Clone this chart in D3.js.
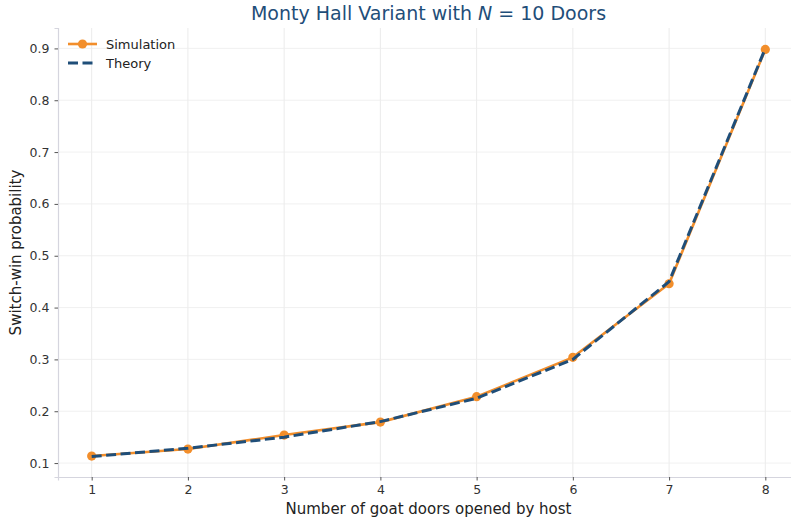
<!DOCTYPE html>
<html>
<head>
<meta charset="utf-8">
<script src="https://cdn.jsdelivr.net/npm/d3@7"></script>
<style>
  body { margin: 0; background: #fff; }
  text { font-family: "DejaVu Sans", sans-serif; }
</style>
</head>
<body>
<div id="chart"></div>
<script>
// data
const doorsOpened = [1, 2, 3, 4, 5, 6, 7, 8];
const simulation = [0.1135, 0.127, 0.154, 0.179, 0.228, 0.304, 0.446, 0.898];
const theory = [0.1125, 0.1286, 0.15, 0.18, 0.225, 0.3, 0.45, 0.9];
const yTicks = [0.1, 0.2, 0.3, 0.4, 0.5, 0.6, 0.7, 0.8, 0.9];

const orange = '#f28e2b';
const navy = '#1f4e79';

const W = 791, H = 519;
const margin = { top: 28, right: -8, bottom: 42, left: 58 },
width = W - margin.left - margin.right,
height = H - margin.top - margin.bottom;

const svg = d3.select('#chart')
    .append('svg')
    .attr('width', W)
    .attr('height', H);

const g = svg.append('g')
    .attr('transform', `translate(${margin.left} ${margin.top})`);

// matplotlib-like 5% margins
const x = d3.scaleLinear().domain([0.65, 8.35]).range([0, width]);
const yMin = 0.1125, yMax = 0.9, pad = (yMax - yMin) * 0.05;
const y = d3.scaleLinear().domain([yMin - pad, yMax + pad]).range([height, 0]);

// grid
g.append('g')
    .selectAll('line')
    .data(doorsOpened)
    .join('line')
    .attr('x1', d => x(d)).attr('x2', d => x(d))
    .attr('y1', 0).attr('y2', height)
    .attr('stroke', '#e6e6e6').attr('stroke-width', 0.8);

g.append('g')
    .selectAll('line')
    .data(yTicks)
    .join('line')
    .attr('x1', 0).attr('x2', width)
    .attr('y1', d => y(d)).attr('y2', d => y(d))
    .attr('stroke', '#ececec').attr('stroke-width', 0.8);

// axes
const xAxis = g.append('g')
    .attr('transform', `translate(0 ${height})`)
    .call(d3.axisBottom(x).tickValues(doorsOpened).tickFormat(d3.format('d')).tickSize(3.5).tickPadding(5));
const yAxis = g.append('g')
    .call(d3.axisLeft(y).tickValues(yTicks).tickFormat(d3.format('.1f')).tickSize(3.5).tickPadding(5));

[xAxis, yAxis].forEach(a => {
    a.select('.domain').attr('stroke', '#d5d5de').attr('stroke-width', 1.2);
    a.selectAll('.tick line').attr('stroke', '#555');
    a.selectAll('.tick text').attr('fill', '#333').attr('font-size', 12.5)
        .attr('font-family', 'DejaVu Sans');
});

// lines
const line = d3.line().x(d => x(d[0])).y(d => y(d[1]));
const simPts = doorsOpened.map((d, i) => [d, simulation[i]]);
const thPts = doorsOpened.map((d, i) => [d, theory[i]]);

g.append('path')
    .attr('d', line(simPts))
    .attr('fill', 'none')
    .attr('stroke', orange)
    .attr('stroke-width', 2.6)
    .attr('stroke-linejoin', 'round');

g.append('g')
    .selectAll('circle')
    .data(simPts)
    .join('circle')
    .attr('cx', d => x(d[0]))
    .attr('cy', d => y(d[1]))
    .attr('r', 4.6)
    .attr('fill', orange);

g.append('path')
    .attr('d', line(thPts))
    .attr('fill', 'none')
    .attr('stroke', navy)
    .attr('stroke-width', 3)
    .attr('stroke-dasharray', '10 4.5');

// legend
const legend = g.append('g').attr('transform', 'translate(10 16)');
legend.append('line').attr('x1', 0).attr('x2', 29).attr('y1', 0).attr('y2', 0)
    .attr('stroke', orange).attr('stroke-width', 2.6);
legend.append('circle').attr('cx', 14.5).attr('cy', 0).attr('r', 4.6).attr('fill', orange);
legend.append('text').attr('x', 38).attr('y', 4.5).attr('font-size', 13).attr('fill', '#222').text('Simulation');
legend.append('line').attr('x1', 0).attr('x2', 29).attr('y1', 19).attr('y2', 19)
    .attr('stroke', navy).attr('stroke-width', 3).attr('stroke-dasharray', '10 4.5');
legend.append('text').attr('x', 38).attr('y', 23.5).attr('font-size', 13).attr('fill', '#222').text('Theory');

// title
const title = svg.append('text')
    .attr('x', margin.left + width / 2)
    .attr('y', 20)
    .attr('text-anchor', 'middle')
    .attr('font-size', 19)
    .attr('fill', navy);
title.append('tspan').text('Monty Hall Variant with ');
title.append('tspan').attr('font-style', 'italic').text('N');
title.append('tspan').text(' = 10 Doors');

// axis labels
svg.append('text')
    .attr('x', margin.left + width / 2)
    .attr('y', H - 5)
    .attr('text-anchor', 'middle')
    .attr('font-size', 15)
    .attr('fill', '#222')
    .text('Number of goat doors opened by host');

svg.append('text')
    .attr('transform', `translate(21 ${margin.top + height / 2}) rotate(-90)`)
    .attr('text-anchor', 'middle')
    .attr('font-size', 15)
    .attr('fill', '#222')
    .text('Switch-win probability');
</script>
</body>
</html>
